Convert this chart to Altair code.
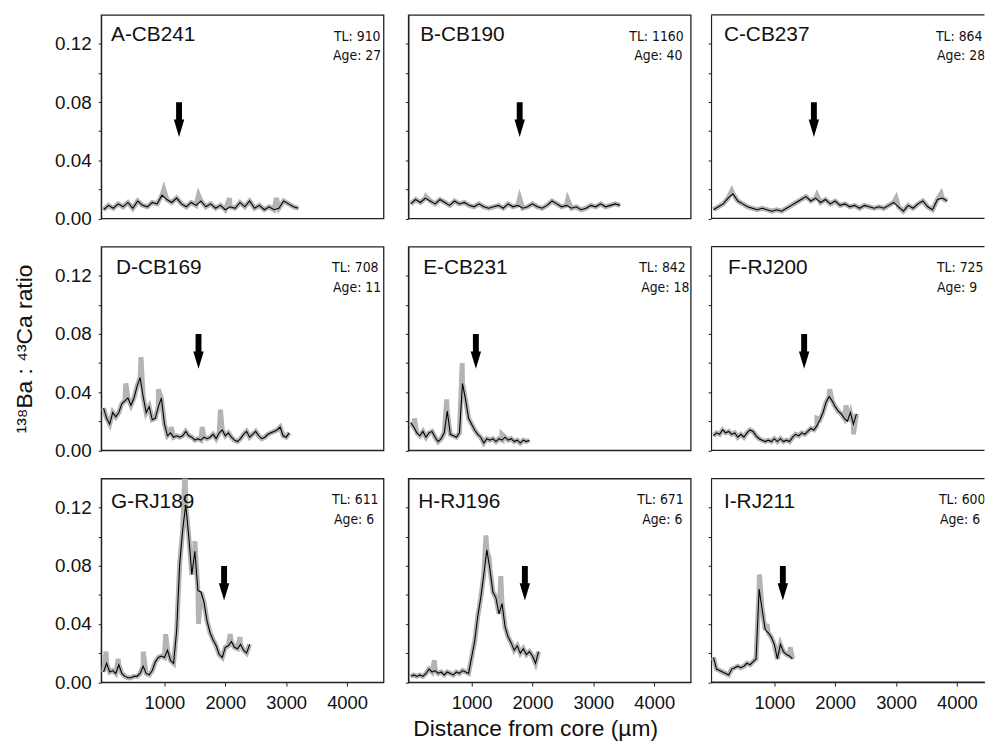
import altair as alt
import pandas as pd

# ---------------- data ----------------
panels = ["A-CB241", "B-CB190", "C-CB237", "D-CB169", "E-CB231",
          "F-RJ200", "G-RJ189", "H-RJ196", "I-RJ211"]
tl = [910, 1160, 864, 708, 842, 725, 611, 671, 600]
age = [27, 40, 28, 11, 18, 9, 6, 6, 6]
arrow_x = [1240, 1790, 1650, 1560, 1070, 1490, 1980, 1875, 1140]
arrow_y = 0.068
step = [80, 80, 80, 50, 50, 50, 50, 50, 50]   # sampling interval (µm)

vals_A = [0.006, 0.009, 0.007, 0.010, 0.008, 0.011, 0.007, 0.012, 0.009, 0.008,
          0.011, 0.010, 0.016, 0.013, 0.011, 0.014, 0.010, 0.008, 0.011, 0.009,
          0.012, 0.008, 0.010, 0.007, 0.009, 0.006, 0.008, 0.007, 0.011, 0.008,
          0.012, 0.007, 0.009, 0.006, 0.008, 0.006, 0.007, 0.012, 0.010, 0.008,
          0.007]
vals_B = [0.010, 0.013, 0.011, 0.014, 0.012, 0.010, 0.013, 0.011, 0.009, 0.012,
          0.010, 0.011, 0.009, 0.008, 0.010, 0.008, 0.007, 0.008, 0.009, 0.007,
          0.010, 0.008, 0.009, 0.007, 0.008, 0.010, 0.008, 0.007, 0.009, 0.012,
          0.010, 0.008, 0.009, 0.007, 0.008, 0.006, 0.007, 0.009, 0.008, 0.010,
          0.008, 0.009, 0.010, 0.009]
vals_C = [0.006, 0.008, 0.010, 0.014, 0.017, 0.012, 0.010, 0.008, 0.007, 0.006,
          0.007, 0.006, 0.005, 0.006, 0.005, 0.007, 0.009, 0.011, 0.013, 0.015,
          0.012, 0.014, 0.011, 0.013, 0.010, 0.012, 0.009, 0.010, 0.008, 0.009,
          0.007, 0.009, 0.008, 0.007, 0.008, 0.007, 0.009, 0.011, 0.008, 0.005,
          0.009, 0.007, 0.010, 0.012, 0.008, 0.006, 0.013, 0.014, 0.012]
vals_D = [0.029, 0.022, 0.018, 0.026, 0.023, 0.026, 0.032, 0.034, 0.036, 0.031,
          0.036, 0.044, 0.050, 0.037, 0.026, 0.030, 0.021, 0.022, 0.030, 0.036,
          0.018, 0.010, 0.012, 0.009, 0.010, 0.009, 0.010, 0.013, 0.010, 0.009,
          0.007, 0.008, 0.007, 0.009, 0.008, 0.009, 0.011, 0.008, 0.012, 0.014,
          0.010, 0.012, 0.009, 0.007, 0.006, 0.008, 0.011, 0.013, 0.009, 0.011,
          0.013, 0.010, 0.008, 0.009, 0.011, 0.012, 0.013, 0.014, 0.016, 0.010,
          0.009, 0.012]
vals_E = [0.019, 0.016, 0.012, 0.010, 0.013, 0.009, 0.012, 0.013, 0.009, 0.006,
          0.008, 0.012, 0.027, 0.011, 0.010, 0.009, 0.012, 0.046, 0.035, 0.022,
          0.018, 0.014, 0.011, 0.009, 0.005, 0.008, 0.007, 0.008, 0.006, 0.008,
          0.007, 0.009, 0.007, 0.008, 0.006, 0.007, 0.005, 0.007, 0.006, 0.007]
vals_F = [0.010, 0.012, 0.011, 0.014, 0.012, 0.013, 0.011, 0.012, 0.009, 0.011,
          0.009, 0.012, 0.014, 0.013, 0.010, 0.008, 0.007, 0.006, 0.007, 0.006,
          0.008, 0.006, 0.008, 0.006, 0.007, 0.006, 0.009, 0.011, 0.010, 0.012,
          0.011, 0.013, 0.015, 0.014, 0.017, 0.021, 0.026, 0.033, 0.037, 0.034,
          0.030, 0.027, 0.025, 0.022, 0.020, 0.026, 0.018, 0.025]
vals_G = [0.007, 0.013, 0.007, 0.008, 0.006, 0.012, 0.006, 0.004, 0.003, 0.003,
          0.004, 0.004, 0.006, 0.011, 0.006, 0.005, 0.008, 0.014, 0.017, 0.018,
          0.017, 0.022, 0.015, 0.013, 0.035, 0.081, 0.105, 0.122, 0.100, 0.074,
          0.090, 0.063, 0.062, 0.055, 0.042, 0.034, 0.029, 0.025, 0.019, 0.017,
          0.024, 0.025, 0.028, 0.024, 0.023, 0.026, 0.022, 0.020, 0.026]
vals_H = [0.004, 0.005, 0.004, 0.005, 0.004, 0.006, 0.009, 0.007, 0.008, 0.006,
          0.007, 0.005, 0.007, 0.006, 0.005, 0.007, 0.006, 0.008, 0.007, 0.006,
          0.017, 0.028, 0.045, 0.058, 0.074, 0.091, 0.078, 0.062, 0.058, 0.047,
          0.054, 0.038, 0.031, 0.027, 0.022, 0.025, 0.020, 0.023, 0.019, 0.021,
          0.018, 0.013, 0.021]
vals_I = [0.017, 0.009, 0.008, 0.007, 0.006, 0.005, 0.009, 0.010, 0.011, 0.010,
          0.011, 0.013, 0.012, 0.014, 0.016, 0.064, 0.050, 0.036, 0.034, 0.031,
          0.026, 0.016, 0.026, 0.021, 0.019, 0.018, 0.016]

# extra excursions of the grey (raw) trace: (distance, ratio)
spikes_A = [(990, 0.020), (1560, 0.016), (2070, 0.014), (2840, 0.014)]
spikes_B = [(250, 0.015), (1790, 0.014), (2580, 0.013)]
spikes_C = [(300, 0.019), (1700, 0.016), (3000, 0.014), (3740, 0.017)]
spikes_D = [(365, 0.046), (615, 0.064), (900, 0.042), (1110, 0.016),
            (1620, 0.016), (1920, 0.028)]
spikes_E = [(60, 0.022), (590, 0.035), (845, 0.060), (1500, 0.011)]
spikes_F = [(1700, 0.022), (1910, 0.042), (2180, 0.031), (2300, 0.011)]
spikes_G = [(40, 0.021), (240, 0.016), (650, 0.021), (1020, 0.033),
            (1340, 0.150), (1500, 0.097), (1560, 0.040), (2080, 0.033),
            (2240, 0.031)]
spikes_H = [(390, 0.015), (1235, 0.101), (1290, 0.085), (1480, 0.073)]
spikes_I = [(755, 0.074), (880, 0.040), (1260, 0.024)]

values = [vals_A, vals_B, vals_C, vals_D, vals_E, vals_F, vals_G, vals_H, vals_I]
spikes = [spikes_A, spikes_B, spikes_C, spikes_D, spikes_E, spikes_F,
          spikes_G, spikes_H, spikes_I]

# ---------------- tables ----------------
rows = []
for k, name in enumerate(panels):
    for i, v in enumerate(values[k]):
        rows.append({"panel": name, "x": i * step[k], "y": v, "s": "black"})
        rows.append({"panel": name, "x": i * step[k], "y": v, "s": "grey"})
    for sx, sy in spikes[k]:
        rows.append({"panel": name, "x": sx, "y": sy, "s": "grey"})
    rows.append({"panel": name, "x": arrow_x[k], "y": arrow_y, "s": "arrow"})
df = pd.DataFrame(rows)

info = pd.DataFrame({
    "panel": panels,
    "tl": [f"TL: {t}" for t in tl],
    "age": [f"Age: {a}" for a in age],
})

# ---------------- styling ----------------
ARROW = "M-0.17,-1L0.17,-1L0.17,0L0.3,0L0,1L-0.3,0L-0.17,0Z"
W, H = 285, 205.5
W_CUT = 276                      # right column is cut by the picture edge
X0, X1 = -40, 4600               # x domain of a full-width panel
lab_dx = [10, 12, 13, 15, 15, 17, 10, 10, 13]
lab_dy = [20, 22, 24]
tl_dx = [235, 223, 227, 233, 233, 228, 233, 231, 230]
age_dx = [234, 228, 228, 234, 235, 228, 235, 236, 231]
SANS = "Liberation Sans"
NARROW = "Liberation Sans Narrow, DejaVu Sans Condensed, sans-serif"
FRAME = "#222222"
yticks = [0, 0.02, 0.04, 0.06, 0.08, 0.10, 0.12]


def panel(k):
    name = panels[k]
    row, col = divmod(k, 3)
    w = W_CUT if col == 2 else W
    xmax = X0 + (X1 - X0) * w / W
    if row == 2:
        xaxis = alt.Axis(values=[1000, 2000, 3000, 4000], format="d",
                         tickSize=4, labelPadding=8, labelFontSize=18.5,
                         grid=False,
                         title="Distance from core (µm)" if col == 1 else None,
                         titleFontSize=23, titleFontWeight="normal",
                         titlePadding=5, titleX=128)
    else:
        xaxis = None
    if col == 0:
        yaxis = alt.Axis(values=yticks, tickSize=3, labelPadding=7,
                         labelFontSize=19, grid=False,
                         labelExpr="round(datum.value*100) % 4 == 0 ? format(datum.value, '.2f') : ''",
                         title="¹³⁸Ba : ⁴³Ca ratio" if row == 1 else None,
                         titleFontSize=23, titleFontWeight="normal",
                         titlePadding=18)
    else:
        yaxis = alt.Axis(values=yticks, tickSize=3, labels=False, grid=False,
                         title=None)
    x = alt.X("x:Q", scale=alt.Scale(domain=[X0, xmax], nice=False, zero=False),
              axis=xaxis)
    y = alt.Y("y:Q", scale=alt.Scale(domain=[0, 0.14], nice=False), axis=yaxis)

    base = alt.Chart(df).transform_filter(alt.datum.panel == name)
    grey = base.transform_filter(alt.datum.s == "grey").mark_line(
        color="#b4b4b4", strokeWidth=5, clip=True).encode(x=x, y=y)
    black = base.transform_filter(alt.datum.s == "black").mark_line(
        color="#000000", strokeWidth=1.1, clip=True).encode(x=x, y=y)
    arrow = base.transform_filter(alt.datum.s == "arrow").mark_point(
        shape=ARROW, filled=True, size=1225, color="#000000", opacity=1,
        strokeWidth=0).encode(x=x, y=y)

    ib = alt.Chart(info).transform_filter(alt.datum.panel == name)
    lab = ib.mark_text(align="left", baseline="middle", fontSize=21, font=SANS,
                       color="#111111").encode(
        x=alt.value(lab_dx[k]), y=alt.value(lab_dy[row]), text="panel:N")
    tlt = ib.mark_text(align="left", baseline="middle", fontSize=14, font=NARROW,
                       color="#111111", clip=True).encode(
        x=alt.value(tl_dx[k]), y=alt.value(22), text="tl:N")
    aget = ib.mark_text(align="left", baseline="middle", fontSize=14, font=NARROW,
                        color="#111111", clip=True).encode(
        x=alt.value(age_dx[k]), y=alt.value(42), text="age:N")
    layers = [grey, black, arrow, lab, tlt, aget]
    props = dict(width=w, height=H)
    if col == 2:
        # no right border: the frame runs off the edge of the picture
        top = ib.mark_rule(color=FRAME, strokeWidth=1.3).encode(
            x=alt.value(0), x2=alt.value(w), y=alt.value(0))
        bottom = ib.mark_rule(color=FRAME, strokeWidth=1.3).encode(
            x=alt.value(0), x2=alt.value(w), y=alt.value(H))
        layers += [top, bottom]
        props["view"] = alt.ViewBackground(strokeWidth=0)
    return alt.layer(*layers).properties(**props)


grid_rows = []
for r in range(3):
    right_pair = alt.hconcat(panel(3 * r + 1), panel(3 * r + 2),
                             spacing=20.5, bounds="flush")
    grid_rows.append(alt.hconcat(panel(3 * r), right_pair,
                                 spacing=25, bounds="flush"))

chart = alt.vconcat(*grid_rows, spacing=16).properties(
    padding={"left": 5, "top": 2.5, "right": 0, "bottom": 0}
).configure_view(
    stroke=FRAME, strokeWidth=1.3
).configure_axis(
    domainColor=FRAME, tickColor=FRAME, labelColor="#111111",
    titleColor="#111111", labelFont=SANS, titleFont=SANS, domainWidth=1.2
)

chart.save("out.html", embed_options={"renderer": "svg", "actions": False})
